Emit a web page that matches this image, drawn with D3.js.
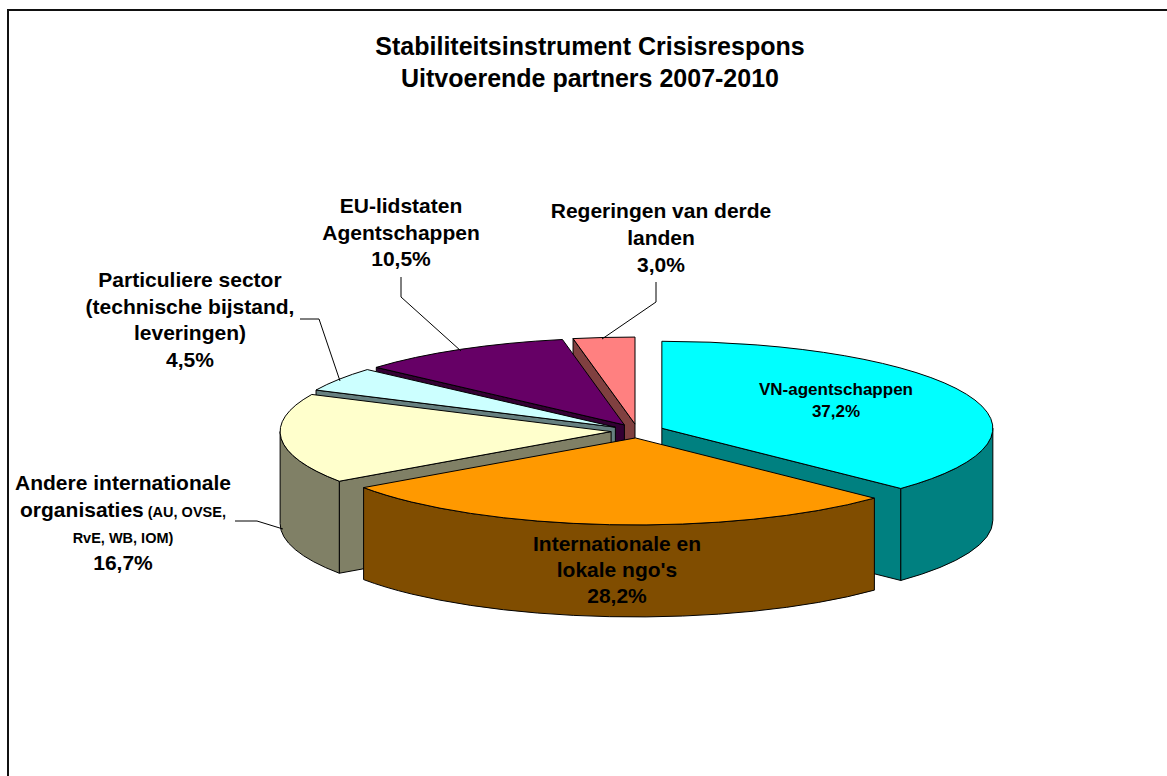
<!doctype html>
<html>
<head>
<script src="https://cdnjs.cloudflare.com/ajax/libs/d3/7.8.5/d3.min.js"></script>
<style>
  body { margin: 0; background: #fff; }
  svg { display: block; }
  text { font-family: Arial, "Liberation Sans", sans-serif; font-weight: bold; fill: #000; }
</style>
</head>
<body>
<svg width="1167" height="776"></svg>
<script>
// data
partners = ["VN-agentschappen", "Internationale en lokale ngo's", "Andere internationale organisaties",
            "Particuliere sector", "EU-lidstaten Agentschappen", "Regeringen van derde landen"]
shares = [37.2, 28.2, 16.7, 4.5, 10.5, 3.0]
titleLines = ["Stabiliteitsinstrument Crisisrespons", "Uitvoerende partners 2007-2010"]

// label text per slice, each line is a list of [text, small?] parts
labelLines = [
    [[["VN-agentschappen"]]],
    [[["Internationale en"]], [["lokale ngo's"]]],
    [[["Andere internationale"]], [["organisaties"], [" (AU, OVSE,", 1]], [["RvE, WB, IOM)", 1]]],
    [[["Particuliere sector"]], [["(technische bijstand,"]], [["leveringen)"]]],
    [[["EU-lidstaten"]], [["Agentschappen"]]],
    [[["Regeringen van derde"]], [["landen"]]]
]

topColors = ["#00ffff", "#ff9900", "#ffffcc", "#ccffff", "#660066", "#ff8080"]
sideColors = ["#008080", "#804d00", "#808066", "#668080", "#330033", "#804040"]

// layout
cx = 637.5; cy = 431; rx = 331; ry = 87; depth = 92; explode = 0.08
// x, first baseline, line step, font size
labelPos = [
    [836, 395, 22, 17],
    [617, 551, 26, 21],
    [123, 490, 26.5, 21],
    [190, 287, 26.5, 21],
    [401, 213, 26.5, 21],
    [661, 218, 27, 21]
]
leaders = [
    null,
    null,
    [[235, 521], [257, 521], [283, 529]],
    [[300, 319], [319, 319], [340, 381]],
    [[401, 277], [401, 297], [461, 351]],
    [[656, 282], [656, 302], [602, 339]]
]

nl = d3.formatLocale({decimal: ",", thousands: ".", grouping: [3], currency: ["", "€"]})
pct = v => nl.format(".1f")(v) + "%"

svg = d3.select("svg")

svg.append("rect")
    .attr("x", 8).attr("y", 10)
    .attr("width", 1200).attr("height", 800)
    .attr("fill", "#fff")
    .attr("stroke", "#111").attr("stroke-width", 2)

x = d3.scaleLinear().domain([-1, 1]).range([cx - rx, cx + rx])
y = d3.scaleLinear().domain([-1, 1]).range([cy + ry, cy - ry])

pie = d3.pie().sort(null).value(d => d)
slices = pie(shares).map((s, i) => {
    s.i = i
    s.mid = (s.startAngle + s.endAngle) / 2
    return s
})

function pt(s, a, r, z) {
    var ox = explode * Math.sin(s.mid), oy = explode * Math.cos(s.mid)
    return [x(ox + r * Math.sin(a)), y(oy + r * Math.cos(a)) + z]
}

function topPath(s) {
    var c = pt(s, 0, 0, 0), p0 = pt(s, s.startAngle, 1, 0), p1 = pt(s, s.endAngle, 1, 0)
    var large = s.endAngle - s.startAngle > Math.PI ? 1 : 0
    return "M" + c + "L" + p0 + "A" + rx + "," + ry + " 0 " + large + " 1 " + p1 + "Z"
}

function outerPath(s) {
    var a0 = Math.max(s.startAngle, Math.PI / 2), a1 = Math.min(s.endAngle, 3 * Math.PI / 2)
    if (a1 <= a0) return null
    var t0 = pt(s, a0, 1, 0), t1 = pt(s, a1, 1, 0), b1 = pt(s, a1, 1, depth), b0 = pt(s, a0, 1, depth)
    return "M" + t0 + "A" + rx + "," + ry + " 0 0 1 " + t1 + "L" + b1 +
        "A" + rx + "," + ry + " 0 0 0 " + b0 + "Z"
}

function wallPath(s, a) {
    var c = pt(s, a, 0, 0), o = pt(s, a, 1, 0)
    var ob = pt(s, a, 1, depth), cb = pt(s, a, 0, depth)
    return "M" + c + "L" + o + "L" + ob + "L" + cb + "Z"
}

// sides, back to front
sides = []
slices.forEach(s => {
    if (Math.sin(s.startAngle) < -1e-6) sides.push({s: s, d: wallPath(s, s.startAngle)})
    if (Math.sin(s.endAngle) > 1e-6) sides.push({s: s, d: wallPath(s, s.endAngle)})
    var op = outerPath(s)
    if (op) sides.push({s: s, d: op})
})
sides.sort((a, b) => (-Math.cos(a.s.mid)) - (-Math.cos(b.s.mid)))

svg.append("g").selectAll("path")
    .data(sides)
    .enter()
    .append("path")
    .attr("d", d => d.d)
    .attr("fill", d => sideColors[d.s.i])
    .attr("stroke", "#000").attr("stroke-width", 1)
    .attr("stroke-linejoin", "round")

svg.append("g").selectAll("path")
    .data(slices)
    .enter()
    .append("path")
    .attr("d", topPath)
    .attr("fill", d => topColors[d.i])
    .attr("stroke", "#000").attr("stroke-width", 1)
    .attr("stroke-linejoin", "round")

// leader lines
svg.append("g").selectAll("polyline")
    .data(leaders.filter(d => d))
    .enter()
    .append("polyline")
    .attr("points", d => d.join(" "))
    .attr("fill", "none")
    .attr("stroke", "#000").attr("stroke-width", 1)

// title
svg.append("g").selectAll("text")
    .data(titleLines)
    .enter()
    .append("text")
    .attr("x", 590)
    .attr("y", (d, i) => 55 + i * 32)
    .attr("text-anchor", "middle")
    .style("font-size", "25px")
    .text(d => d)

// slice labels
slices.forEach(s => {
    var p = labelPos[s.i]
    var lines = labelLines[s.i].concat([[[pct(shares[s.i])]]])
    var g = svg.append("g")
    lines.forEach((parts, li) => {
        var t = g.append("text")
            .attr("x", p[0])
            .attr("y", p[1] + li * p[2])
            .attr("text-anchor", "middle")
            .style("font-size", p[3] + "px")
        parts.forEach(part => {
            t.append("tspan")
                .style("font-size", part[1] ? "14.5px" : null)
                .text(part[0])
        })
    })
})
</script>
</body>
</html>
